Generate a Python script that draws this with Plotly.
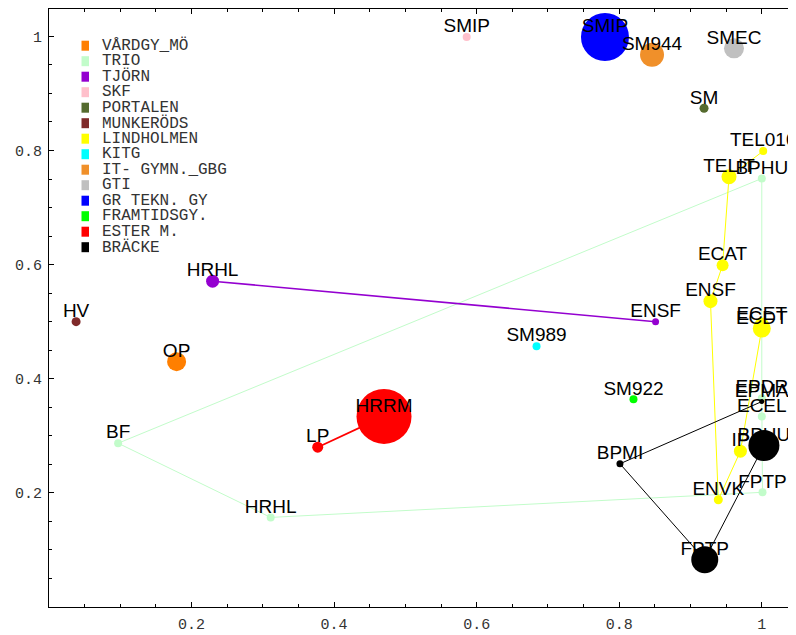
import plotly.graph_objects as go

# ---------------- data ----------------
series_names = ["VÅRDGY_MÖ", "TRIO", "TJÖRN", "SKF", "PORTALEN", "MUNKERÖDS",
                "LINDHOLMEN", "KITG", "IT- GYMN._GBG", "GTI", "GR TEKN. GY",
                "FRAMTIDSGY.", "ESTER M.", "BRÄCKE"]
series_colors = ["#ff7f00", "#c2fcca", "#9400d0", "#ffc0cb", "#556b2f", "#7f2a2a",
                 "#ffff00", "#00ffff", "#f0902a", "#c0c0c0", "#0000ff",
                 "#00ff00", "#ff0000", "#000000"]

vardgy_labels = ["OP"];            vardgy_x = [0.179];  vardgy_y = [0.430];  vardgy_s = [19]
trio_labels = ["BF", "BPHU", "EPDR", "ECEL", "FPTP", "HRHL"]
trio_x = [0.097, 1.000, 1.000, 1.000, 1.001, 0.311]
trio_y = [0.287, 0.751, 0.366, 0.334, 0.201, 0.157]
trio_s = [8, 8, 8, 8, 8, 8]
tjorn_labels = ["HRHL", "ENSF"];   tjorn_x = [0.2295, 0.851]; tjorn_y = [0.571, 0.500]; tjorn_s = [13, 7]
skf_labels = ["SMIP"];             skf_x = [0.586];     skf_y = [0.999];     skf_s = [8]
portalen_labels = ["SM"];          portalen_x = [0.919]; portalen_y = [0.874]; portalen_s = [9]
munk_labels = ["HV"];              munk_x = [0.038];    munk_y = [0.500];    munk_s = [9]
lind_labels = ["TEL010", "TELIT", "ECAT", "ENSF", "ENVK", "IP", "ECDT", "ECET"]
lind_x = [1.002, 0.954, 0.945, 0.928, 0.939, 0.970, 1.000, 1.000]
lind_y = [0.799, 0.754, 0.599, 0.536, 0.188, 0.273, 0.488, 0.495]
lind_s = [8, 15, 12, 14, 9, 13, 18, 14]
kitg_labels = ["SM989"];           kitg_x = [0.684];    kitg_y = [0.457];    kitg_s = [8]
itg_labels = ["SM944"];            itg_x = [0.846];     itg_y = [0.968];     itg_s = [24]
gti_labels = ["SMEC"];             gti_x = [0.961];     gti_y = [0.979];     gti_s = [20]
grt_labels = ["SMIP"];             grt_x = [0.780];     grt_y = [0.999];     grt_s = [48]
fram_labels = ["SM922"];           fram_x = [0.820];    fram_y = [0.364];    fram_s = [8]
ester_labels = ["LP", "HRRM"];     ester_x = [0.377, 0.470]; ester_y = [0.280, 0.334]; ester_s = [11, 55]
bracke_labels = ["EPMA", "BPMI", "FPTP", "BPHU"]
bracke_x = [1.000, 0.801, 0.920, 1.003]
bracke_y = [0.360, 0.251, 0.083, 0.283]
bracke_s = [5, 7, 27, 31]

x_ticks = [0.2, 0.4, 0.6, 0.8, 1]
y_ticks = [0.2, 0.4, 0.6, 0.8, 1]

series = [
    (vardgy_labels, vardgy_x, vardgy_y, vardgy_s, False),
    (trio_labels, trio_x, trio_y, trio_s, True),
    (tjorn_labels, tjorn_x, tjorn_y, tjorn_s, False),
    (skf_labels, skf_x, skf_y, skf_s, False),
    (portalen_labels, portalen_x, portalen_y, portalen_s, False),
    (munk_labels, munk_x, munk_y, munk_s, False),
    (lind_labels, lind_x, lind_y, lind_s, False),
    (kitg_labels, kitg_x, kitg_y, kitg_s, False),
    (itg_labels, itg_x, itg_y, itg_s, False),
    (gti_labels, gti_x, gti_y, gti_s, False),
    (grt_labels, grt_x, grt_y, grt_s, False),
    (fram_labels, fram_x, fram_y, fram_s, False),
    (ester_labels, ester_x, ester_y, ester_s, False),
    (bracke_labels, bracke_x, bracke_y, bracke_s, False),
]
line_widths = [1, 1, 1.6, 1, 1, 1, 1, 1, 1, 1, 1, 1, 1.8, 1]

# ---------------- figure ----------------
fig = go.Figure()

# markers + connecting lines
for (labs, xv, yv, sv, closed), name, col, lw in zip(series, series_names, series_colors, line_widths):
    if len(xv) > 1:
        lx = list(xv) + ([xv[0]] if closed else [])
        ly = list(yv) + ([yv[0]] if closed else [])
        fig.add_trace(go.Scatter(x=lx, y=ly, mode="lines", line=dict(color=col, width=lw),
                                 showlegend=False, hoverinfo="skip"))
    fig.add_trace(go.Scatter(x=xv, y=yv, mode="markers", name=name,
                             marker=dict(color=col, size=sv, opacity=1, line=dict(width=0)),
                             showlegend=False))

# point labels on top
for (labs, xv, yv, sv, closed) in series:
    fig.add_trace(go.Scatter(x=xv, y=yv, mode="text", text=labs, textposition="top center",
                             textfont=dict(family="Liberation Sans, Arial", size=19, color="#000000"),
                             showlegend=False, hoverinfo="skip"))

# figure geometry (page body adds an 8px offset)
FW, FH = 788, 627
L, T, B, W = 41, 1, 599, 747
H = B - T
def px_to_paper_x(px):
    return (px - L) / W
def px_to_paper_y(py):
    return (B - py) / H

# custom compact legend
row0, step = 37.7, 15.5
for i, (name, col) in enumerate(zip(series_names, series_colors)):
    ry = row0 + step * i
    fig.add_shape(type="rect", xref="paper", yref="paper",
                  x0=px_to_paper_x(73.5), x1=px_to_paper_x(81),
                  y0=px_to_paper_y(ry + 5), y1=px_to_paper_y(ry - 5),
                  fillcolor=col, line=dict(width=0))
    fig.add_annotation(xref="paper", yref="paper", x=px_to_paper_x(92), y=px_to_paper_y(ry),
                       xanchor="left", yanchor="middle", text=name, showarrow=False,
                       font=dict(family="Liberation Mono, Courier New, monospace", size=16, color="#333333"))

axis_common = dict(
    showline=True, linecolor="#000000", linewidth=1, mirror="ticks",
    ticks="inside", ticklen=5, tickcolor="#000000", tickwidth=1,
    showgrid=False, zeroline=False, automargin=False,
    tickfont=dict(family="Liberation Mono, Courier New, monospace", size=15, color="#333333"),
    minor=dict(ticks="inside", ticklen=3, tickcolor="#000000", dtick=0.05, showgrid=False),
)
fig.update_xaxes(range=[0, 1.048], tickmode="array", tickvals=x_ticks,
                 ticktext=[str(v) for v in x_ticks], ticklabelstandoff=3, **axis_common)
fig.update_yaxes(range=[0, 1.048], tickmode="array", tickvals=y_ticks,
                 ticktext=[str(v) for v in y_ticks], ticklabelstandoff=3, **axis_common)

fig.update_layout(
    width=FW, height=FH,
    margin=dict(l=L, r=FW - L - W, t=T, b=FH - B),
    paper_bgcolor="#ffffff", plot_bgcolor="#ffffff",
    showlegend=False,
)

fig.write_html("out.html")
